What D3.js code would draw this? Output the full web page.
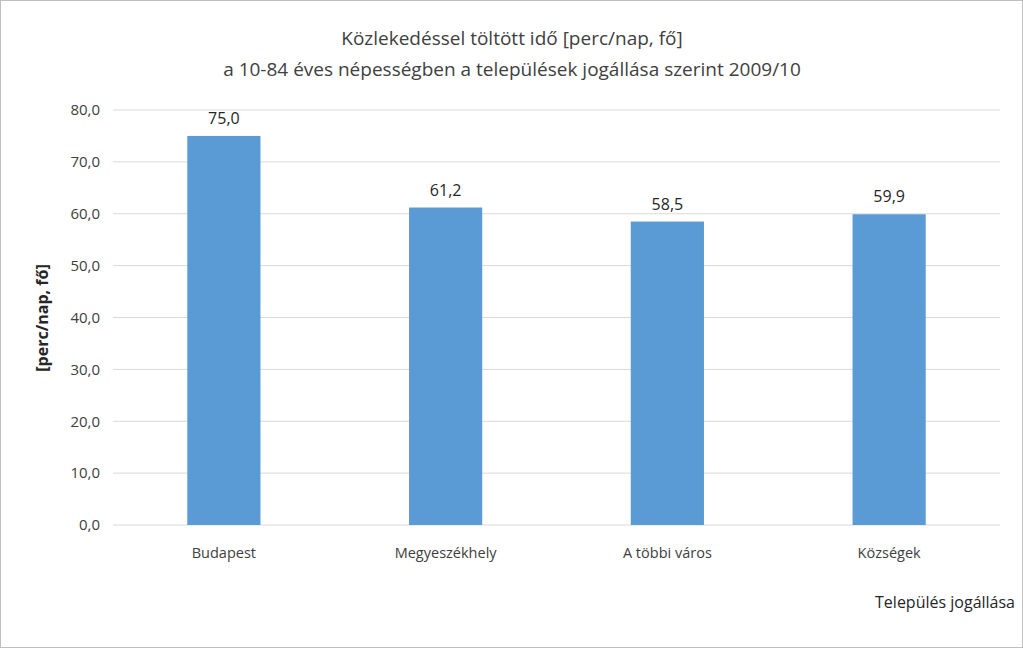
<!DOCTYPE html>
<html><head><meta charset="utf-8">
<script src="https://cdn.jsdelivr.net/npm/d3@7"></script>
<style>body{margin:0;background:#fff}svg{display:block;font-family:"Open Sans",sans-serif}</style>
</head><body>
<script>
const categories=["Budapest","Megyeszékhely","A többi város","Községek"];
const values=[75.0,61.2,58.5,59.9];
const yTicks=[0,10,20,30,40,50,60,70,80];
const W=1023,H=648;
const svg=d3.select("body").append("svg").attr("width",W).attr("height",H);
svg.append("rect").attr("x",0.5).attr("y",0.5).attr("width",W-1).attr("height",H-1).attr("fill","#fff").attr("stroke","#bfbfbf");
const x=d3.scaleBand().domain(categories).range([113,1000]).paddingInner(0.67).paddingOuter(0.335);
const y=d3.scaleLinear().domain([0,80]).range([525,110]);
const fmt=v=>d3.format(".1f")(v).replace(".",",");
svg.append("g").selectAll("line").data(yTicks).join("line")
 .attr("x1",113).attr("x2",1000).attr("y1",d=>y(d)).attr("y2",d=>y(d)).attr("stroke","#d9d9d9");
svg.append("g").selectAll("text").data(yTicks).join("text")
 .attr("x",100).attr("y",d=>y(d)).attr("dy","0.35em").attr("text-anchor","end").attr("font-size",15).attr("fill","#404040").text(fmt);
svg.append("g").selectAll("rect").data(values).join("rect")
 .attr("x",(d,i)=>x(categories[i])).attr("width",x.bandwidth()).attr("y",d=>y(d)).attr("height",d=>y(0)-y(d)).attr("fill","#5b9bd5");
svg.append("g").selectAll("text").data(values).join("text")
 .attr("x",(d,i)=>x(categories[i])+x.bandwidth()/2).attr("y",d=>y(d)-12).attr("text-anchor","middle").attr("font-size",16).attr("fill","#262626").text(fmt);
svg.append("g").selectAll("text").data(categories).join("text")
 .attr("x",d=>x(d)+x.bandwidth()/2).attr("y",558).attr("text-anchor","middle").attr("font-size",14.5).attr("fill","#404040").text(d=>d);
svg.append("text").attr("x",512).attr("y",45).attr("text-anchor","middle").attr("font-size",19).attr("fill","#404040").text("Közlekedéssel töltött idő [perc/nap, fő]");
svg.append("text").attr("x",512).attr("y",76).attr("text-anchor","middle").attr("font-size",19).attr("fill","#404040").text("a 10-84 éves népességben a települések jogállása szerint 2009/10");
svg.append("text").attr("transform","translate(48,318) rotate(-90)").attr("text-anchor","middle").attr("font-size",16).attr("font-weight","bold").attr("fill","#262626").text("[perc/nap, fő]");
svg.append("text").attr("x",1015).attr("y",608).attr("text-anchor","end").attr("font-size",16).attr("fill","#262626").text("Település jogállása");
</script></body></html>
